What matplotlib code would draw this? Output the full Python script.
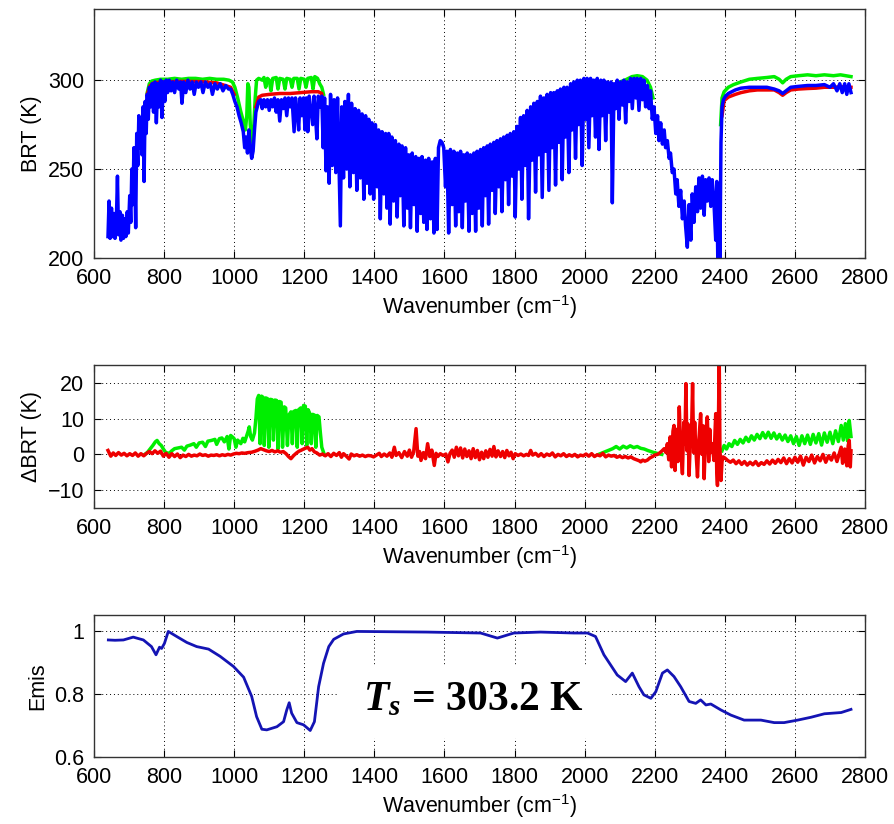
import matplotlib
matplotlib.use("Agg")
import matplotlib.pyplot as plt
import matplotlib.patches as patches
import numpy as np

plt.rcParams['font.family'] = ['Liberation Sans', 'DejaVu Sans']
plt.rcParams['mathtext.fontset'] = 'custom'
plt.rcParams['mathtext.rm'] = 'Liberation Sans'
plt.rcParams['mathtext.it'] = 'Liberation Sans:italic'
plt.rcParams['mathtext.bf'] = 'Liberation Sans:bold'
plt.rcParams['mathtext.bfit'] = 'Liberation Serif:italic:bold'

# ---- top panel: brightness temperature (K) ----
# blue spectrum (spiky parts as top/bottom pairs)
blue_pts = [
    (640, 212), (643, 232), (646, 211), (650, 228), (653, 212), (657, 225), (660, 211), (664, 222),
    (667, 246), (670, 213), (674, 226), (677, 210), (681, 224), (684, 211), (688, 222), (691, 212),
    (695, 226), (698, 214), (702, 235), (705, 220), (708, 250), (711, 230), (714, 262), (717, 240),
    (719, 217), (722, 270), (725, 252), (728, 280), (731, 262), (734, 278), (737, 258), (740, 285),
    (743, 243), (746, 288), (749, 270), (752, 292), (755, 278), (758, 296), (762, 285), (766, 298),
    (770, 282), (774, 299), (778, 276), (782, 298), (786, 285), (790, 300), (794, 279), (798, 299),
    (802, 288), (806, 300), (810, 293), (815, 300), (820, 294), (825, 299), (830, 293), (836, 300),
    (842, 295), (847, 299), (851, 287), (856, 299), (862, 293), (868, 300), (874, 295), (880, 299),
    (886, 292), (892, 299), (898, 296), (905, 299), (911, 293), (918, 299), (925, 296), (932, 298),
    (938, 292), (945, 298), (952, 295), (960, 298), (968, 294), (976, 297), (984, 295), (990, 295),
    (996, 292), (1002, 288), (1008, 285), (1014, 280), (1020, 276), (1026, 271), (1030, 262),
    (1034, 268), (1038, 259), (1042, 272), (1046, 262), (1050, 256), (1054, 260), (1058, 272),
    (1062, 282), (1066, 285), (1070, 288), (1076, 289), (1080, 284), (1085, 289), (1090, 285),
    (1095, 289), (1100, 283), (1105, 289), (1110, 285), (1115, 290), (1120, 282), (1125, 289),
    (1130, 277), (1135, 289), (1140, 284), (1145, 290), (1150, 280), (1155, 290), (1160, 285),
    (1165, 290), (1171, 271), (1175, 290), (1180, 282), (1184, 272), (1188, 290), (1193, 280),
    (1198, 290), (1202, 272), (1206, 290), (1210, 271), (1214, 291), (1219, 283), (1224, 275),
    (1228, 291), (1232, 280), (1236, 267), (1240, 291), (1245, 285), (1250, 291), (1254, 262),
    (1258, 290), (1262, 249), (1266, 285), (1271, 242), (1275, 292), (1280, 252), (1285, 289),
    (1290, 248), (1295, 290), (1299, 255), (1303, 218), (1307, 285), (1312, 245), (1316, 288),
    (1321, 250), (1326, 292), (1330, 240), (1335, 287), (1340, 248), (1345, 284), (1350, 238),
    (1355, 283), (1360, 245), (1365, 281), (1370, 233), (1375, 280), (1379, 242), (1384, 278),
    (1388, 236), (1393, 276), (1398, 233), (1403, 275), (1408, 240), (1412, 272), (1417, 222),
    (1422, 271), (1427, 236), (1432, 270), (1436, 228), (1441, 270), (1445, 219), (1450, 268),
    (1455, 232), (1460, 266), (1465, 223), (1470, 264), (1474, 235), (1479, 263), (1484, 218),
    (1489, 262), (1494, 228), (1498, 258), (1503, 217), (1508, 259), (1513, 230), (1518, 257),
    (1522, 215), (1527, 256), (1532, 225), (1536, 257), (1541, 220), (1546, 255), (1550, 216),
    (1555, 256), (1560, 222), (1565, 254), (1570, 214), (1574, 256), (1579, 216), (1583, 262),
    (1588, 266), (1593, 265), (1598, 262), (1603, 240), (1607, 260), (1612, 214), (1617, 261),
    (1622, 230), (1627, 260), (1632, 218), (1637, 259), (1641, 226), (1646, 260), (1651, 217),
    (1655, 258), (1660, 232), (1665, 259), (1670, 215), (1674, 258), (1679, 225), (1684, 259),
    (1689, 215), (1693, 260), (1698, 228), (1703, 261), (1708, 218), (1712, 262), (1717, 235),
    (1722, 263), (1726, 219), (1731, 264), (1736, 238), (1741, 265), (1745, 225), (1750, 266),
    (1755, 240), (1760, 267), (1764, 226), (1769, 268), (1774, 244), (1779, 269), (1783, 230),
    (1788, 270), (1793, 246), (1798, 271), (1802, 223), (1807, 274), (1812, 250), (1817, 279),
    (1821, 233), (1826, 280), (1831, 252), (1836, 283), (1840, 222), (1846, 285), (1850, 255),
    (1855, 287), (1860, 237), (1865, 288), (1869, 258), (1874, 291), (1879, 234), (1884, 290),
    (1888, 260), (1893, 292), (1898, 238), (1903, 293), (1907, 262), (1912, 293), (1917, 241),
    (1922, 294), (1926, 265), (1931, 295), (1936, 244), (1941, 296), (1945, 268), (1950, 296),
    (1955, 248), (1960, 298), (1964, 272), (1969, 299), (1974, 256), (1979, 300), (1983, 275),
    (1988, 300), (1993, 252), (1998, 301), (2002, 278), (2007, 301), (2012, 262), (2017, 301),
    (2021, 280), (2026, 300), (2031, 268), (2036, 301), (2041, 261), (2046, 300), (2050, 280),
    (2055, 300), (2060, 266), (2065, 299), (2070, 282), (2075, 299), (2079, 231), (2084, 298),
    (2088, 284), (2093, 300), (2098, 278), (2103, 299), (2108, 286), (2112, 300), (2117, 276),
    (2122, 299), (2127, 288), (2131, 301), (2136, 284), (2141, 301), (2146, 290), (2150, 301),
    (2155, 283), (2160, 301), (2165, 289), (2169, 300), (2174, 285), (2179, 297), (2184, 284),
    (2188, 294), (2193, 278), (2198, 285), (2203, 270), (2208, 280), (2212, 266), (2217, 276),
    (2222, 264), (2227, 272), (2231, 262), (2236, 266), (2241, 256), (2245, 259), (2250, 248),
    (2255, 250), (2260, 236), (2264, 244), (2269, 229), (2274, 238), (2279, 222), (2284, 232),
    (2288, 218), (2293, 206), (2298, 230), (2303, 210), (2307, 236), (2312, 220), (2317, 240),
    (2322, 226), (2326, 245), (2331, 228), (2336, 246), (2341, 224), (2345, 244), (2350, 232),
    (2355, 245), (2360, 229), (2364, 244), (2369, 231), (2374, 210), (2377, 243), (2380, 198),
    (2383, 240), (2386, 198), (2389, 265), (2392, 285), (2396, 289), (2402, 291), (2410, 292.5),
    (2430, 294.5), (2446, 295.5), (2470, 296), (2493, 296), (2520, 296), (2541, 295), (2555, 294),
    (2565, 292.5), (2575, 294), (2588, 296), (2610, 296.5), (2636, 297), (2660, 297), (2684, 297.5),
    (2700, 296), (2710, 298), (2720, 294), (2728, 298), (2735, 293), (2742, 298), (2748, 292),
    (2754, 298), (2760, 293),
]
wn_blue = [p[0] for p in blue_pts]
brt_blue = [p[1] for p in blue_pts]

# green curve, visible only where it lies above blue (None = gap)
green_pts = [
    (752, 293), (758, 298), (765, 299.5), (775, 300), (790, 300.5), (810, 300.5), (830, 301),
    (850, 300.5), (870, 301), (890, 301), (910, 300.5), (930, 301), (950, 300.5), (970, 300.5),
    (985, 300), (995, 299), (1002, 296), (1010, 290), (1018, 283), (1026, 277), (1032, 272),
    (1036, 280), (1039, 298), (1042, 296), (1046, 275), (1051, 265), (1055, 270), (1060, 290),
    (1064, 300), (1070, 301), (1080, 300), (1085, 301.5), (1090, 296), (1095, 301), (1100, 300),
    (1105, 294), (1110, 301), (1120, 301.5), (1125, 295), (1130, 301), (1140, 300.5), (1145, 295),
    (1150, 301), (1160, 300.5), (1165, 296), (1170, 301), (1180, 301), (1185, 295), (1190, 301),
    (1200, 300.5), (1205, 296), (1210, 301), (1220, 301.5), (1225, 295), (1230, 302), (1238, 301),
    (1244, 298), (1250, 296), (1255, 292), (None, None),
    (2100, 299), (2115, 300), (2125, 301), (2135, 302), (2150, 302.5), (2165, 302), (2178, 300),
    (2188, 296), (2195, 290), (None, None),
    (2388, 275), (2392, 290), (2398, 293.5), (2410, 296), (2425, 297.5), (2446, 299), (2470, 300.5),
    (2493, 301), (2520, 301.5), (2541, 302), (2555, 300.5), (2565, 298.5), (2575, 300.5),
    (2588, 302), (2610, 302.5), (2636, 303), (2660, 302.5), (2684, 303), (2710, 302.5),
    (2730, 303), (2745, 302.5), (2760, 302),
]
wn_green = [np.nan if p[0] is None else p[0] for p in green_pts]
brt_green = [np.nan if p[1] is None else p[1] for p in green_pts]

# red curve, visible only at the edges of blue
red_pts = [
    (752, 292), (760, 297), (770, 298.5), (800, 299), (850, 299.3), (900, 299.2), (950, 298.5),
    (990, 296), (1000, 292), (None, None),
    (1062, 285), (1070, 290.5), (1080, 291.5), (1100, 292), (1130, 292.5), (1160, 292.5),
    (1190, 293), (1220, 293.5), (1240, 293.5), (1250, 292.5), (1256, 270), (None, None),
    (2392, 280), (2398, 288.5), (2410, 290.5), (2430, 292), (2446, 293), (2470, 294),
    (2493, 294.5), (2520, 294.5), (2541, 294.5), (2555, 293), (2565, 291.5), (2575, 293),
    (2588, 294.5), (2610, 295), (2636, 295.3), (2660, 295.5), (2684, 296), (2710, 296),
    (2730, 296.3), (2760, 296),
]
wn_red = [np.nan if p[0] is None else p[0] for p in red_pts]
brt_red = [np.nan if p[1] is None else p[1] for p in red_pts]

# ---- middle panel: delta BRT (K) ----
dgreen_pts = [
    (745, 0), (752, 0.5), (760, 1.5), (768, 2.5), (775, 3.5), (780, 3.9), (786, 3.0), (792, 2.5),
    (798, 1.5), (805, 0.5), (815, 0.3), (822, 1.0), (830, 1.6), (840, 1.8), (850, 2.0), (858, 1.2),
    (865, 2.3), (875, 2.6), (885, 3.0), (892, 2.0), (900, 3.2), (910, 3.4), (918, 2.2), (925, 3.7),
    (935, 3.9), (945, 4.2), (950, 2.8), (958, 4.4), (965, 4.6), (972, 3.5), (980, 5.0), (985, 1.5),
    (990, 5.3), (996, 4.8), (1000, 4.4), (1005, 2.0), (1010, 4.0), (1019, 3.0), (1025, 4.5),
    (1030, 3.5), (1036, 5.3), (1040, 6.5), (1043, 7.7), (1047, 5.0), (1052, 4.0), (1058, 6.0),
    (1062, 10.0), (1066, 15.5), (1070, 16.5), (1074, 3.0), (1078, 16.3), (1082, 16.0), (1086, 2.5),
    (1090, 15.8), (1095, 15.6), (1099, 2.0), (1103, 15.4), (1108, 15.3), (1112, 4.0), (1116, 15.2),
    (1121, 15.1), (1125, 1.5), (1129, 14.8), (1134, 14.6), (1138, 2.0), (1143, 13.3), (1147, 13.0),
    (1152, 2.5), (1156, 11.0), (1162, 11.9), (1166, 3.0), (1170, 12.0), (1176, 12.3), (1180, 2.0),
    (1184, 12.5), (1190, 13.0), (1194, 3.0), (1198, 13.7), (1203, 13.5), (1207, 2.5), (1211, 12.5),
    (1216, 11.4), (1220, 3.0), (1224, 11.2), (1229, 11.0), (1233, 2.0), (1237, 10.9), (1242, 10.5),
    (1246, 6.0), (1250, 2.0), (1257, 0.0), (None, None),
    (2040, 0), (2060, 0.8), (2080, 1.6), (2090, 2.2), (2100, 1.5), (2110, 2.3), (2120, 1.8),
    (2130, 2.4), (2140, 1.9), (2150, 2.2), (2160, 1.7), (2170, 1.5), (2180, 1.1), (2195, 0.6),
    (2210, 0.2), (2220, 0), (None, None),
    (2392, 1.0), (2398, 2.5), (2405, 1.5), (2412, 3.0), (2420, 2.2), (2428, 3.9), (2436, 2.8),
    (2444, 4.2), (2452, 3.2), (2460, 4.8), (2468, 3.6), (2476, 5.2), (2484, 4.0), (2492, 5.6),
    (2500, 4.4), (2508, 6.1), (2516, 4.6), (2524, 6.2), (2532, 4.5), (2540, 6.0), (2548, 4.3),
    (2556, 5.6), (2564, 4.0), (2572, 5.4), (2580, 3.6), (2588, 5.2), (2596, 3.0), (2604, 5.0),
    (2612, 2.5), (2620, 5.2), (2628, 3.0), (2636, 5.4), (2644, 2.8), (2652, 5.6), (2660, 3.2),
    (2668, 5.8), (2676, 2.6), (2684, 6.0), (2692, 3.4), (2700, 6.2), (2708, 3.0), (2716, 6.6),
    (2724, 3.6), (2732, 8.1), (2738, 4.0), (2744, 8.6), (2750, 3.8), (2755, 9.5), (2760, 5.0),
]
wn_dgreen = [np.nan if p[0] is None else p[0] for p in dgreen_pts]
dbrt_green = [np.nan if p[1] is None else p[1] for p in dgreen_pts]

dred_pts = [
    (640, 1.1), (648, -0.5), (655, 0.4), (662, -0.3), (670, 0.5), (678, -0.2), (686, 0.3),
    (694, -0.4), (702, 0.2), (710, -0.3), (718, 0.4), (726, -0.5), (734, 0.2), (742, -0.4),
    (750, 0.3), (758, 0.8), (766, 0.2), (774, 1.0), (782, 0.3), (790, 0.9), (798, -0.5), (806, 0.3),
    (814, -0.8), (822, 0.2), (830, -0.6), (838, 0.1), (846, -0.9), (854, -0.2), (862, -0.6),
    (870, 0.0), (878, -0.5), (886, -0.2), (894, -0.4), (902, 0.1), (910, -0.3), (918, -0.1),
    (926, -0.5), (934, -0.2), (942, -0.3), (950, -0.1), (958, -0.4), (966, -0.1), (974, -0.3),
    (982, 0.0), (990, -0.2), (998, 0.1), (1006, 0.3), (1014, 0.2), (1022, 0.4), (1030, 0.3),
    (1040, 0.5), (1050, 0.6), (1060, 0.9), (1068, 1.2), (1076, 1.6), (1084, 1.3), (1092, 1.0),
    (1100, 0.8), (1108, 1.1), (1116, 0.7), (1124, 1.0), (1132, 0.6), (1140, 0.8), (1148, 0.2),
    (1155, -0.6), (1162, -1.2), (1170, -0.3), (1178, 0.4), (1185, 0.9), (1190, 1.1), (1198, 1.5),
    (1205, 1.8), (1210, 2.0), (1216, 1.2), (1222, 1.6), (1229, 0.7), (1236, 0.4), (1244, -0.2),
    (1252, 0.1), (1260, -0.4), (1268, 0.2), (1276, -0.6), (1284, 0.3), (1292, -0.3), (1300, 0.5),
    (1306, -0.8), (1312, 0.2), (1320, -0.5), (1328, -1.3), (1334, 0.1), (1342, -0.4), (1350, -0.1),
    (1358, -0.5), (1366, -0.2), (1374, -0.6), (1382, -0.3), (1390, -0.4), (1398, -0.7),
    (1406, -0.2), (1414, 0.3), (1420, -0.6), (1428, 0.1), (1436, -0.5), (1444, 0.4), (1450, -0.8),
    (1457, 2.0), (1462, -0.3), (1470, 0.5), (1478, -0.9), (1486, 0.8), (1494, -0.5), (1500, 1.2),
    (1506, -0.8), (1512, 0.6), (1519, 7.2), (1524, -0.5), (1529, 0.8), (1533, -1.7), (1540, 0.5),
    (1546, -1.2), (1552, 3.0), (1558, -0.6), (1564, 1.2), (1571, -3.1), (1576, 0.3), (1581, -0.6),
    (1588, 0.2), (1596, -0.3), (1604, 0.1), (1610, -2.1), (1616, 0.3), (1622, 1.2), (1628, -0.8),
    (1634, 2.0), (1640, -0.4), (1646, 1.8), (1652, -1.0), (1658, 1.5), (1664, -0.6), (1670, 1.0),
    (1676, -1.2), (1682, 1.6), (1688, -0.9), (1694, 1.1), (1700, -1.5), (1706, 0.6), (1712, -1.2),
    (1718, 1.0), (1724, -0.8), (1730, 1.4), (1736, -0.5), (1741, 2.2), (1747, -0.7), (1753, 1.0),
    (1760, -0.6), (1766, 0.8), (1772, -0.9), (1778, 1.1), (1784, -0.4), (1790, 0.6), (1796, -1.2),
    (1802, 0.2), (1810, -0.3), (1818, 0.1), (1826, -0.4), (1834, 0.0), (1840, -0.3), (1846, 1.1),
    (1852, -0.2), (1860, 0.3), (1868, -0.5), (1876, 0.2), (1884, -0.6), (1892, 0.1), (1900, -0.3),
    (1908, 0.4), (1916, -0.7), (1924, 0.0), (1932, -0.4), (1940, 0.2), (1948, -0.6), (1956, -0.1),
    (1964, -0.5), (1972, 0.0), (1980, -0.7), (1988, -0.2), (1996, -0.4), (2004, 0.1), (2012, -0.5),
    (2020, 0.2), (2028, -0.6), (2036, -0.1), (2044, -0.4), (2052, 0.3), (2060, -0.7), (2068, -0.2),
    (2076, -0.5), (2084, -0.3), (2092, -0.8), (2100, -0.5), (2108, -0.9), (2116, -0.6),
    (2124, -1.0), (2132, -0.7), (2140, -1.2), (2148, -1.5), (2156, -1.8), (2160, -2.1),
    (2166, -1.6), (2172, -1.9), (2179, -1.6), (2186, -1.0), (2194, -0.6), (2200, -0.2), (2208, 0.0),
    (2214, 0.4), (2220, 0.9), (2227, 1.6), (2232, 0.5), (2236, 3.0), (2240, -1.5), (2244, 4.9),
    (2248, -3.5), (2252, 6.5), (2255, 8.1), (2258, -4.5), (2262, 7.0), (2266, -2.0), (2270, 13.3),
    (2274, 2.0), (2279, -5.4), (2283, 9.0), (2286, 3.0), (2289, 19.8), (2292, 1.0), (2295, 8.5),
    (2298, -5.9), (2302, 5.0), (2305, 6.0), (2308, 19.8), (2311, 0.5), (2314, 9.0), (2317, 2.0),
    (2322, -6.3), (2326, 4.0), (2331, 11.4), (2335, 0.0), (2338, 8.0), (2341, -6.8), (2345, 5.0),
    (2350, 10.5), (2354, -2.0), (2357, 7.0), (2360, 0.5), (2364, 3.0), (2369, -1.7), (2372, 6.0),
    (2374, 11.4), (2377, -5.0), (2379, -8.7), (2381, 3.0), (2384, 27.0), (2386, 2.0), (2389, -7.3),
    (2392, -2.0), (2395, -0.7), (2400, -1.0), (2408, -1.7), (2416, -2.2), (2424, -1.6),
    (2432, -2.6), (2440, -1.8), (2448, -2.8), (2456, -2.0), (2464, -3.0), (2472, -2.2),
    (2480, -2.9), (2488, -2.0), (2496, -3.1), (2504, -2.3), (2512, -2.8), (2520, -1.8),
    (2528, -2.7), (2536, -1.6), (2544, -2.5), (2552, -1.4), (2560, -2.3), (2568, -1.0),
    (2576, -2.6), (2584, -1.2), (2592, -2.4), (2600, -0.8), (2608, -2.2), (2616, -0.5),
    (2624, -3.0), (2632, -0.8), (2640, -2.0), (2648, -0.2), (2656, -2.4), (2664, -0.6),
    (2672, -1.8), (2680, 0.0), (2688, -2.2), (2696, -0.4), (2704, -1.6), (2712, 0.4), (2720, -2.0),
    (2728, 0.6), (2732, 2.0), (2736, -2.5), (2742, 1.5), (2748, -3.2), (2752, 2.5), (2755, 3.9),
    (2758, -3.5), (2760, 1.0),
]
wn_dred = [p[0] for p in dred_pts]
dbrt_red = [p[1] for p in dred_pts]

# ---- bottom panel: emissivity ----
wn_emis = [641, 660, 684, 712, 741, 764, 777, 787, 793, 801, 812, 836, 865, 893, 927, 960, 998,
           1027, 1050, 1064, 1079, 1093, 1122, 1141, 1150, 1157, 1164, 1179, 1198, 1217, 1229,
           1241, 1255, 1270, 1284, 1312, 1350, 1450, 1550, 1600, 1703, 1751, 1798, 1874, 1970,
           2008, 2031, 2055, 2074, 2093, 2117, 2136, 2155, 2169, 2189, 2203, 2222, 2236, 2255,
           2274, 2298, 2317, 2331, 2346, 2360, 2389, 2417, 2455, 2503, 2541, 2569, 2608, 2646,
           2684, 2732, 2760]
emis = [0.971, 0.970, 0.971, 0.980, 0.971, 0.950, 0.924, 0.948, 0.944, 0.960, 0.998, 0.982,
        0.963, 0.950, 0.942, 0.919, 0.887, 0.853, 0.792, 0.728, 0.688, 0.686, 0.696, 0.712,
        0.749, 0.772, 0.739, 0.709, 0.702, 0.684, 0.712, 0.823, 0.897, 0.950, 0.973, 0.990,
        0.998, 0.997, 0.996, 0.995, 0.993, 0.977, 0.993, 0.996, 0.993, 0.993, 0.982, 0.924,
        0.892, 0.860, 0.839, 0.866, 0.823, 0.797, 0.786, 0.807, 0.866, 0.876, 0.855, 0.823,
        0.776, 0.770, 0.781, 0.765, 0.768, 0.749, 0.733, 0.717, 0.717, 0.709, 0.709, 0.717,
        0.726, 0.737, 0.741, 0.751]

BLUE = '#0000ff'
GREEN = '#00ee00'
RED = '#ee0000'
LW = 2.5
XTICKS = [600, 800, 1000, 1200, 1400, 1600, 1800, 2000, 2200, 2400, 2600, 2800]

fig = plt.figure(figsize=(8.95, 8.24), dpi=100)
ax1 = fig.add_axes([0.105, 0.687, 0.8615, 0.302])
ax2 = fig.add_axes([0.105, 0.3835, 0.8615, 0.1735])
ax3 = fig.add_axes([0.105, 0.0813, 0.8615, 0.1723])


def style(ax):
    ax.set_xlim(600, 2800)
    ax.set_xticks(XTICKS)
    ax.grid(True, color='k', linestyle=(0, (1, 3)), linewidth=0.7)
    ax.tick_params(direction='in', top=True, right=True, length=5, width=0.8,
                   labelsize=15.5, pad=7)
    for s in ax.spines.values():
        s.set_color('#333333')
        s.set_linewidth(1.0)
    ax.set_xlabel('Wavenumber (cm$^{-1}$)', fontsize=15.5, labelpad=3)


ax1.plot(wn_green, brt_green, color=GREEN, lw=LW)
ax1.plot(wn_red, brt_red, color=RED, lw=LW)
ax1.plot(wn_blue, brt_blue, color=BLUE, lw=LW)
style(ax1)
ax1.set_ylim(200, 340)
ax1.set_yticks([200, 250, 300])
ax1.set_ylabel('BRT (K)', fontsize=15.5, labelpad=4)

ax2.plot(wn_dgreen, dbrt_green, color=GREEN, lw=LW)
ax2.plot(wn_dred, dbrt_red, color=RED, lw=LW)
style(ax2)
ax2.set_ylim(-15, 25)
ax2.set_yticks([-10, 0, 10, 20])
ax2.set_yticklabels(['\u221210', '0', '10', '20'])
ax2.set_ylabel('\u0394BRT (K)', fontsize=15.5, labelpad=4)

ax3.plot(wn_emis, emis, color='#1414b4', lw=2.0, zorder=2)
style(ax3)
ax3.set_ylim(0.6, 1.05)
ax3.set_yticks([0.6, 0.8, 1.0])
ax3.set_yticklabels(['0.6', '0.8', '1'])
ax3.set_ylabel('Emis', fontsize=15.5, labelpad=4)

# white patch behind the surface temperature label
ax3.add_patch(patches.Rectangle((0.3165, 0.134), 0.3555, 0.514, transform=ax3.transAxes,
                                facecolor='white', edgecolor='none', zorder=1.8))
ax3.text(0.492, 0.40, r'$\mathbfit{T_s}$ = 303.2 K', transform=ax3.transAxes,
         ha='center', va='center', fontsize=30, fontweight='bold',
         family='Liberation Serif', zorder=3)

fig.savefig('out.png', dpi=100)
